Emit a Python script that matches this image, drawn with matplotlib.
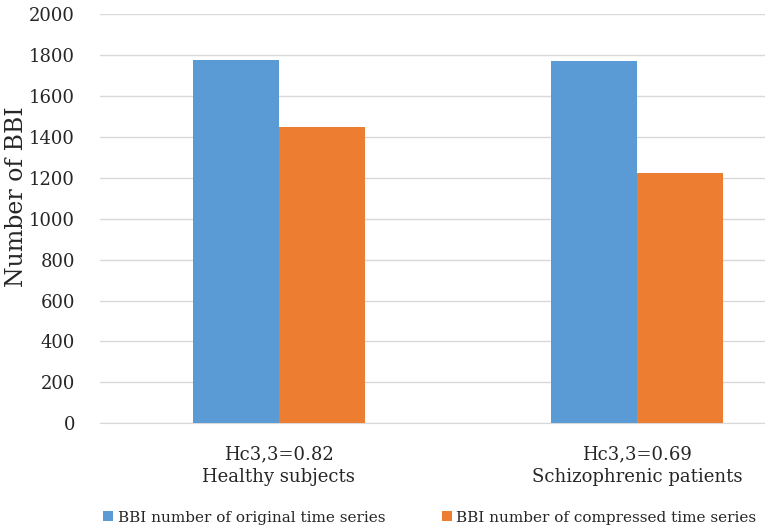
"""
Grouped bar chart: number of BBI before and after compression
for healthy subjects and schizophrenic patients.
"""

import numpy as np
import matplotlib.pyplot as plt

# data
GROUPS = ['Hc3,3=0.82\nHealthy subjects', 'Hc3,3=0.69\nSchizophrenic patients']
ORIGINAL = [1775, 1770]
COMPRESSED = [1450, 1222]
SERIES = ['BBI number of original time series', 'BBI number of compressed time series']

BLUE = '#5B9BD5'
ORANGE = '#ED7D31'
GRID = '#D9D9D9'
TEXT = '#262626'

plt.rcParams['font.family'] = ['DejaVu Serif']


def plot_graph():
    fig = plt.figure(figsize=(7.65, 5.32), dpi=100)
    ax = fig.add_axes([0.1307, 0.2043, 0.8693, 0.7694])

    x = np.arange(len(GROUPS))
    w = 0.2395
    ax.bar(x - w / 2, ORIGINAL, w, color=BLUE, label=SERIES[0], zorder=3)
    ax.bar(x + w / 2, COMPRESSED, w, color=ORANGE, label=SERIES[1], zorder=3)

    ax.set_xlim(-0.499, 1.357)
    ax.set_ylim(0, 2000)
    ax.set_yticks(range(0, 2001, 200))
    ax.set_xticks(x)
    ax.set_xticklabels(GROUPS, fontsize=13, color=TEXT, linespacing=1.35)
    ax.tick_params(axis='y', labelsize=13, colors=TEXT, length=0, pad=18)
    ax.tick_params(axis='x', length=0, pad=16)

    ax.grid(axis='y', color=GRID, linewidth=1, zorder=0)
    for side in ['top', 'right', 'left']:
        ax.spines[side].set_visible(False)
    ax.spines['bottom'].set_color(GRID)

    fig.text(0.021, 0.63, 'Number of BBI', rotation=90, fontsize=17,
             color=TEXT, ha='center', va='center')

    fig.legend(loc='center', bbox_to_anchor=(0.562, 0.027), ncol=2,
               frameon=False, fontsize=11, handlelength=0.65, handleheight=0.65,
               handletextpad=0.3, columnspacing=3.7, labelcolor=TEXT)

    fig.savefig('out.png', dpi=100)


if __name__ == '__main__':
    plot_graph()
